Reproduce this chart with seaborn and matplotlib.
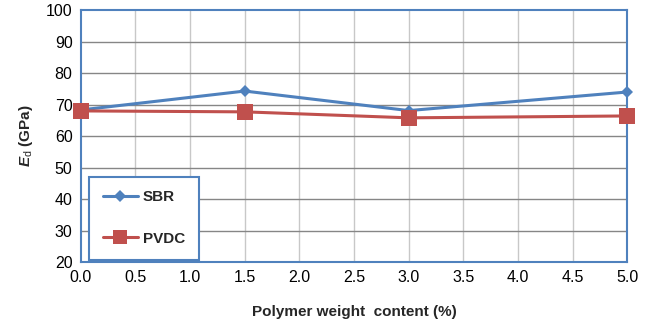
import pandas as pd
import seaborn as sns
from matplotlib import pyplot as plt
from matplotlib.lines import Line2D

# data
content = [0.0, 1.5, 3.0, 5.0]
sbr = [68.3, 74.3, 68.1, 74.0]
pvdc = [68.0, 67.7, 65.8, 66.4]

df = pd.concat([
    pd.DataFrame({'content': content, 'Ed': sbr, 'series': 'SBR'}),
    pd.DataFrame({'content': content, 'Ed': pvdc, 'series': 'PVDC'}),
])

sns.set_theme(style="white")
plt.rcParams['font.family'] = ['Liberation Sans', 'DejaVu Sans']
plt.rcParams['mathtext.fontset'] = 'custom'
plt.rcParams['mathtext.it'] = 'Liberation Sans:bold:italic'
plt.rcParams['mathtext.rm'] = 'Liberation Sans'

blue = '#4F81BD'
red = '#C0504D'

fig = plt.figure(figsize=(6.52, 3.26), dpi=100)
ax = fig.add_axes([0.124, 0.196, 0.838, 0.773])

sns.lineplot(ax=ax, data=df, x='content', y='Ed', hue='series', style='series',
             palette={'SBR': blue, 'PVDC': red},
             markers={'SBR': 'D', 'PVDC': 's'}, dashes=False,
             linewidth=2.2, legend=False)
# marker sizes differ per series
for line, ms in zip(ax.lines, [6, 11]):
    line.set_markersize(ms)
    line.set_markeredgewidth(0)
    line.set_zorder(3)
    line.set_clip_on(False)

ax.set_xlim(0, 5)
ax.set_ylim(20, 100)
ax.set_xticks([i * 0.5 for i in range(11)])
ax.set_xticklabels([f'{i * 0.5:.1f}' for i in range(11)])
ax.set_yticks(range(20, 101, 10))

for x in [i * 0.5 for i in range(1, 10)]:
    ax.axvline(x, color='#c8c8c8', lw=1, zorder=1)
for y in range(30, 100, 10):
    ax.axhline(y, color='#868686', lw=1, zorder=1)

for s in ax.spines.values():
    s.set_color(blue)
    s.set_linewidth(1.5)

ax.tick_params(axis='both', labelsize=11.5, length=0, pad=6, colors='black')
ax.set_xlabel('Polymer weight  content (%)', fontsize=11, fontweight='bold', labelpad=14)
ax.set_ylabel('$E_{\\rm d}$ (GPa)', fontsize=11, fontweight='bold', labelpad=8)

handles = [Line2D([], [], color=blue, marker='D', ms=6, lw=2.2, mew=0),
           Line2D([], [], color=red, marker='s', ms=10, lw=2.2, mew=0)]
leg = ax.legend(handles, ['SBR', 'PVDC'], loc='lower left',
                bbox_to_anchor=(0.015, 0.01), frameon=True, fancybox=False,
                prop={'weight': 'bold', 'size': 11}, labelspacing=1.8,
                borderpad=0.9, handlelength=2.3, handletextpad=0.3,
                borderaxespad=0)
leg.get_frame().set_edgecolor(blue)
leg.get_frame().set_linewidth(1.5)
leg.get_frame().set_alpha(1)

fig.savefig('out.png', dpi=100)
